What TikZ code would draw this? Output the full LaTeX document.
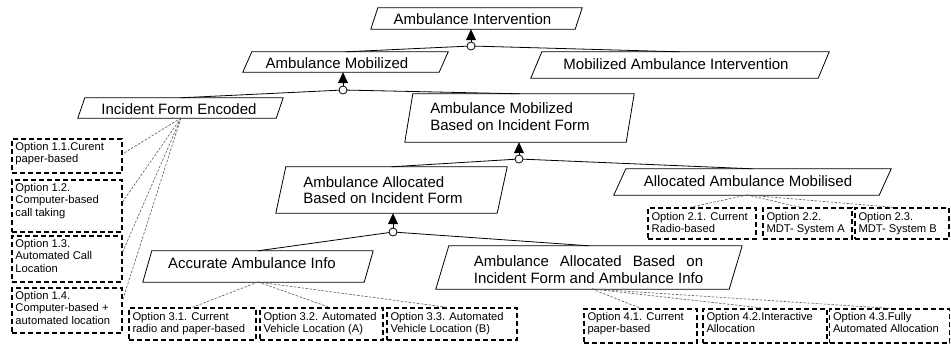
\documentclass[tikz,border=0pt]{standalone}
\usepackage{fontspec}
\setmainfont{Liberation Sans}
\usetikzlibrary{arrows.meta,calc}

\newsavebox\justbox
% goal parallelogram: name, x bottom-left, y top, x top-right, y bottom, slant
\newcommand\goalshape[6]{%
  \node[gshape, minimum width={(#4-#2)*1pt}, minimum height={(#5-#3)*1pt}] (#1) at ({(#2+#4)/2},{(#3+#5)/2}) {};
  \draw[goalline] (#1.south west) -- ([xshift=#6pt]#1.north west) -- (#1.north east) -- ([xshift=-#6pt]#1.south east) -- cycle;
}

\begin{document}
\sbox\justbox{\fontsize{15}{16.5}\selectfont Incident Form and Ambulance Info}
\begin{tikzpicture}[x=1pt,y=-1pt,
  gshape/.style={draw=none, rectangle, inner sep=0pt},
  goalline/.style={line width=0.8pt},
  goaltext/.style={font=\fontsize{15}{16.5}\selectfont, align=left, inner sep=0pt},
  optbox/.style={draw, line width=1.4pt, dash pattern=on 5pt off 3pt, rectangle, inner sep=0pt},
  opttext/.style={font=\fontsize{11.2}{12.3}\selectfont, align=left, inner sep=0pt, anchor=north west},
  refine/.style={line width=0.8pt},
  reach/.style={line width=0.8pt, -{Triangle[width=10pt,length=11pt]}},
  andnode/.style={circle, draw, fill=white, line width=0.8pt, minimum size=8pt, inner sep=0pt},
  optlink/.style={black!65, line width=0.6pt, dash pattern=on 2.5pt off 1.5pt},
]
\useasboundingbox (0,0) rectangle (951,346);

% ---- goals ----
\goalshape{ai}{371}{8}{582}{29}{7}
\goalshape{am}{243}{52}{448}{72}{9}
\goalshape{mai}{531}{52}{829}{78}{11}
\goalshape{ife}{78}{98}{283}{118}{7}
\goalshape{ambif}{405}{94}{634}{142}{8}
\goalshape{aabif}{276}{167}{507}{213}{10}
\goalshape{aam}{614}{169}{891}{195}{12}
\goalshape{aai}{143}{251}{373}{282}{9}
\goalshape{aab}{436}{246}{742}{289}{13}

\node[goaltext] (ai-t) at (472.5,19) {Ambulance Intervention};
\node[goaltext] (am-t) at (337,63) {Ambulance Mobilized};
\node[goaltext] (mai-t) at (676,64) {Mobilized Ambulance Intervention};
\node[goaltext] (ife-t) at (179,109) {Incident Form Encoded};
\node[goaltext] (ambif-t) at (510,116.5) {Ambulance Mobilized\\Based on Incident Form};
\node[goaltext] (aabif-t) at (383,190) {Ambulance Allocated\\Based on Incident Form};
\node[goaltext] (aam-t) at (748,181) {Allocated Ambulance Mobilised};
\node[goaltext] (aai-t) at (252,263) {Accurate Ambulance Info};
\node[goaltext] (aab-t) at (588.5,269.5) {\makebox[\wd\justbox][s]{Ambulance Allocated Based on}\\\usebox\justbox};

% ---- options ----
\node[optbox, minimum width=110pt, minimum height=34pt] (o11) at (67,156) {};
\node[optbox, minimum width=110pt, minimum height=52pt] (o12) at (67,206) {};
\node[optbox, minimum width=110pt, minimum height=46pt] (o13) at (67,259) {};
\node[optbox, minimum width=110pt, minimum height=45pt] (o14) at (67,310.5) {};
\node[optbox, minimum width=127pt, minimum height=32pt] (o31) at (192.5,324) {};
\node[optbox, minimum width=123pt, minimum height=32pt] (o32) at (321.5,324) {};
\node[optbox, minimum width=130pt, minimum height=32pt] (o33) at (452,324) {};
\node[optbox, minimum width=108pt, minimum height=31pt] (o21) at (702,223.5) {};
\node[optbox, minimum width=89pt, minimum height=31pt] (o22) at (807.5,223.5) {};
\node[optbox, minimum width=94pt, minimum height=31pt] (o23) at (902,223.5) {};
\node[optbox, minimum width=113pt, minimum height=34pt] (o41) at (640.5,326) {};
\node[optbox, minimum width=124pt, minimum height=34pt] (o42) at (765,326) {};
\node[optbox, minimum width=120pt, minimum height=34pt] (o43) at (889.5,326) {};

\node[opttext] (o11-t) at ($(o11.north west)+(4,4)$) {Option 1.1.Curent\\paper-based};
\node[opttext] (o12-t) at ($(o12.north west)+(4,4)$) {Option 1.2.\\Computer-based\\call taking};
\node[opttext] (o13-t) at ($(o13.north west)+(4,4)$) {Option 1.3.\\Automated Call\\Location};
\node[opttext] (o14-t) at ($(o14.north west)+(4,4)$) {Option 1.4.\\Computer-based +\\automated location};
\node[opttext] (o31-t) at ($(o31.north west)+(4,5)$) {Option 3.1. Current\\radio and paper-based};
\node[opttext] (o32-t) at ($(o32.north west)+(4,5)$) {Option 3.2. Automated\\Vehicle Location (A)};
\node[opttext] (o33-t) at ($(o33.north west)+(4,5)$) {Option 3.3. Automated\\Vehicle Location (B)};
\node[opttext] (o21-t) at ($(o21.north west)+(4,5)$) {Option 2.1. Current\\Radio-based};
\node[opttext] (o22-t) at ($(o22.north west)+(4,5)$) {Option 2.2.\\MDT- System A};
\node[opttext] (o23-t) at ($(o23.north west)+(4,5)$) {Option 2.3.\\MDT- System B};
\node[opttext] (o41-t) at ($(o41.north west)+(4,4)$) {Option 4.1. Current\\paper-based};
\node[opttext] (o42-t) at ($(o42.north west)+(4,4)$) {Option 4.2.Interactive\\Allocation};
\node[opttext] (o43-t) at ($(o43.north west)+(4,4)$) {Option 4.3.Fully\\Automated Allocation};

% ---- option links ----
\coordinate (ife-b) at (181,118);
\draw[optlink] (ife-b) -- ($(o11.north east)!0.44!(o11.south east)$);
\draw[optlink] (ife-b) -- ($(o12.north east)!0.42!(o12.south east)$);
\draw[optlink] (ife-b) -- ($(o13.north east)!0.35!(o13.south east)$);
\draw[optlink] (ife-b) -- ($(o14.north east)!0.27!(o14.south east)$);
\coordinate (aai-b) at (258,282);
\draw[optlink] (aai-b) -- (o31.north);
\draw[optlink] (aai-b) -- ($(o32.north)+(8,0)$);
\draw[optlink] (aai-b) -- ($(o33.north)+(-5,0)$);
\coordinate (aam-b) at (747,195);
\draw[optlink] (aam-b) -- ($(o21.north)+(-12,0)$);
\draw[optlink] (aam-b) -- ($(o22.north)+(-7,0)$);
\draw[optlink] (aam-b) -- ($(o23.north)+(-9,0)$);
\coordinate (aab-b) at (592,289);
\draw[optlink] (aab-b) -- (o41.north);
\draw[optlink] (aab-b) -- (o42.north);
\draw[optlink] (aab-b) -- (o43.north);

% ---- AND refinements ----
\coordinate (c1) at (471,46);
\coordinate (c2) at (343,90);
\coordinate (c3) at (519,159);
\coordinate (c4) at (393,232);

\draw[refine] (c1) -- (am.north);
\draw[refine] (c1) -- (mai.north);
\draw[refine] (c2) -- (ife.north);
\draw[refine] (c2) -- (ambif.north);
\draw[refine] (c3) -- (aabif.north);
\draw[refine] (c3) -- (aam.north);
\draw[refine] (c4) -- (aai.north);
\draw[refine] (c4) -- (aab.north);

\draw[reach] ($(c1)+(0,-4)$) -- (c1 |- ai.south);
\draw[reach] ($(c2)+(0,-4)$) -- (c2 |- am.south);
\draw[reach] ($(c3)+(0,-4)$) -- (c3 |- ambif.south);
\draw[reach] ($(c4)+(0,-4)$) -- (c4 |- aabif.south);

\node[andnode] (c1n) at (c1) {};
\node[andnode] (c2n) at (c2) {};
\node[andnode] (c3n) at (c3) {};
\node[andnode] (c4n) at (c4) {};
\end{tikzpicture}
\end{document}
